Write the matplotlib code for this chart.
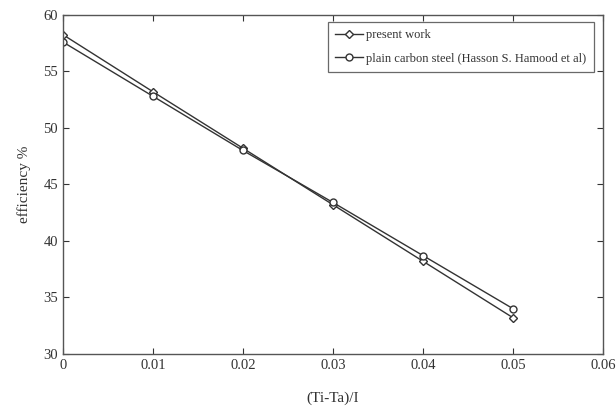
import matplotlib
matplotlib.use("Agg")
import matplotlib.pyplot as plt

# data
x = [0, 0.01, 0.02, 0.03, 0.04, 0.05]
present_work = [58.25, 53.2, 48.2, 43.2, 38.2, 33.2]
plain_carbon = [57.6, 52.8, 48.0, 43.4, 38.7, 34.0]

xticks = [0, 0.01, 0.02, 0.03, 0.04, 0.05, 0.06]
xtick_labels = ["0", "0.01", "0.02", "0.03", "0.04", "0.05", "0.06"]
yticks = [30, 35, 40, 45, 50, 55, 60]

plt.rcParams['font.family'] = ['Liberation Serif', 'DejaVu Serif']

fig = plt.figure(figsize=(6.16, 4.12), dpi=100)
ax = fig.add_axes([0.102, 0.141, 0.877, 0.823])

ax.plot(x, present_work, color='#333333', linewidth=1.0, marker='D', markersize=4.5,
        markerfacecolor='white', markeredgecolor='#333333', label='present work')
ax.plot(x, plain_carbon, color='#333333', linewidth=1.0, marker='o', markersize=5,
        markerfacecolor='white', markeredgecolor='#333333',
        label='plain carbon steel (Hasson S. Hamood et al)')

ax.set_xlim(0, 0.06)
ax.set_ylim(30, 60)
ax.set_xticks(xticks)
ax.set_xticklabels(xtick_labels)
ax.set_yticks(yticks)

ax.tick_params(direction='in', top=True, right=True, length=4, labelsize=10.5,
               colors='#333333', width=0.8)
for s in ax.spines.values():
    s.set_color('#555555')
    s.set_linewidth(1.0)

ax.set_xlabel("(Ti-Ta)/I", fontsize=11, color='#333333', labelpad=14)
ax.set_ylabel("efficiency %", fontsize=11, color='#333333', labelpad=9)

leg = ax.legend(loc='upper right', fontsize=9, frameon=True, fancybox=False,
                edgecolor='#444444', handlelength=2.2, borderpad=0.6,
                labelspacing=0.9, borderaxespad=0, handletextpad=0.3,
                bbox_to_anchor=(0.983, 0.979))
leg.get_frame().set_linewidth(0.9)
for t in leg.get_texts():
    t.set_color('#333333')

fig.savefig("out.png", dpi=100)
